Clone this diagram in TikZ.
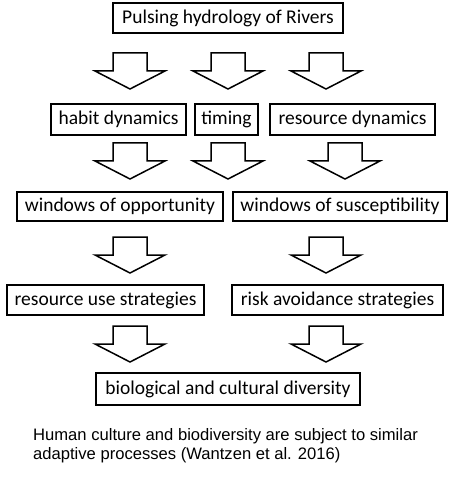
\documentclass[tikz,border=0pt]{standalone}
\usepackage{fontspec}
\setmainfont{Carlito}
\newfontfamily\capfont{Liberation Sans}
\usetikzlibrary{positioning}

\begin{document}
\begin{tikzpicture}[
  x=1pt, y=1pt,
  box/.style={draw, line width=1.7pt, inner sep=0pt, minimum height=30pt,
    font=\fontsize{19.5}{22}\selectfont},
  blk/.pic={\draw[line width=1.5pt, line join=miter]
    (-17,0) -- (-17,-18) -- (-35,-18) -- (0,-36) -- (35,-18) -- (17,-18) -- (17,0) -- cycle;}
]
\useasboundingbox (0,0) rectangle (453,-478);

\node[box, minimum width=230pt] (rivers) at (228,-18) {Pulsing hydrology of Rivers};

\node[box, minimum width=135pt, minimum height=31pt] (habit) at (118.5,-119.5) {habit dynamics};
\node[box, minimum width=63pt, minimum height=31pt] (timing) at (226.5,-119.5) {timing};
\node[box, minimum width=165pt, minimum height=31pt] (resdyn) at (352.5,-119.5) {resource dynamics};

\node[box, minimum width=206pt, minimum height=29pt] (opport) at (120,-206.5) {windows of opportunity};
\node[box, minimum width=214pt, minimum height=29pt] (suscept) at (340,-206.5) {windows of susceptibility};

\node[box, minimum width=197pt] (resuse) at (105.5,-300) {resource use strategies};
\node[box, minimum width=211pt] (risk) at (337.5,-300) {risk avoidance strategies};

\node[box, minimum width=264pt, minimum height=32pt] (diversity) at (228,-389) {biological and cultural diversity};

% block arrows between the rows
\pic at (130,-53) {blk};
\pic at (228,-53) {blk};
\pic at (326,-53) {blk};

\pic at (130,-143) {blk};
\pic at (228,-143) {blk};
\pic at (345,-143) {blk};

\pic at (130,-237) {blk};
\pic at (326,-237) {blk};

\pic at (130,-326) {blk};
\pic at (326,-326) {blk};

\node[anchor=north west, align=left, inner sep=0pt,
  font=\capfont\fontsize{16.6}{18.8}\selectfont] (caption) at (33,-428.5)
  {Human culture and biodiversity are subject to similar\\adaptive processes (Wantzen et al. 2016)};
\end{tikzpicture}
\end{document}
